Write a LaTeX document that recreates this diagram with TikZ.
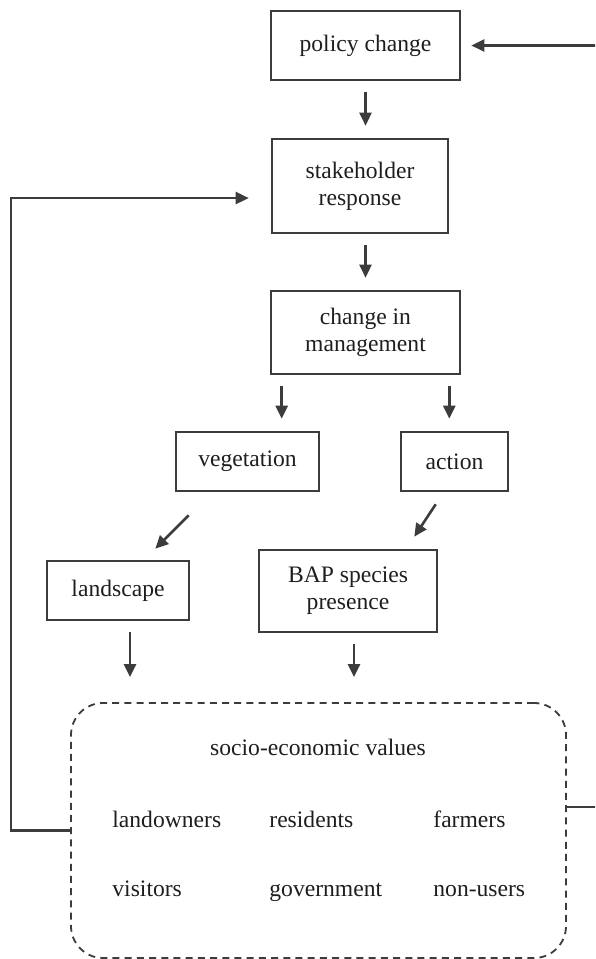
\documentclass[tikz,border=0pt]{standalone}
\usepackage{fontspec}
\setmainfont{Liberation Serif}
\usetikzlibrary{arrows.meta, positioning}
\definecolor{linegray}{RGB}{60,60,60}
\definecolor{textgray}{RGB}{30,30,30}

\begin{document}
\begin{tikzpicture}[x=0.5pt, y=-0.5pt,
    font=\fontsize{11.8}{13.6}\selectfont,
    box/.style={rectangle, draw=linegray, line width=1.3pt, text=textgray, align=center, inner sep=0pt},
    valuebox/.style={rectangle, rounded corners=16pt, draw=linegray, line width=0.9pt, dash pattern=on 3.5pt off 2.6pt, minimum width=247.5pt, minimum height=127.5pt},
    arr/.style={-{Triangle[length=6.5pt, width=6pt]}, draw=linegray, line width=1.3pt, shorten <=5.5pt, shorten >=6pt},
    group/.style={text=textgray, anchor=base west, inner sep=0pt}
]
\path[use as bounding box, clip] (0,0) rectangle (595,959);

% Boxes
\node[box, minimum width=94.5pt, minimum height=34.5pt] (policy) at (365.5,45.5) {policy change};
\node[box, minimum width=88pt, minimum height=47pt] (stake) at (360,186) {stakeholder\\response};
\node[box, minimum width=94.5pt, minimum height=41.5pt] (change) at (365.5,332.5) {change in\\management};
\node[box, minimum width=71.5pt, minimum height=29.5pt] (veg) at (247.5,461.5) {vegetation};
\node[box, minimum width=53.5pt, minimum height=29.5pt] (action) at (454.5,461.5) {action};
\node[box, minimum width=71pt, minimum height=29.5pt] (land) at (118,590.5) {landscape};
\node[box, minimum width=89pt, minimum height=41pt] (bap) at (348,591) {BAP species\\presence};

% Socio-economic values
\node[valuebox] (values) at (318.5,830.5) {};
\node[group, anchor=base] (title) at (318,755) {socio-economic values};
\node[group] (owners) at (112,827) {landowners};
\node[group] (residents) at (269,827) {residents};
\node[group] (farmers) at (433,827) {farmers};
\node[group] (visitors) at (112,896) {visitors};
\node[group] (government) at (269,896) {government};
\node[group] (nonusers) at (433,896) {non-users};

% Arrows down the chain
\draw[arr] (policy.south) -- (policy.south |- stake.north);
\draw[arr] (stake.south -| change.north) -- (change.north);
\draw[arr] ([xshift=6pt]change.south west) -- ([xshift=6pt]change.south west |- veg.north);
\draw[arr] ([xshift=-6pt]change.south east) -- ([xshift=-6pt]change.south east |- action.north);
\draw[arr, shorten <=0pt, shorten >=0pt] ([xshift=7pt, yshift=-11.5pt]veg.south west) -- ([xshift=-17.5pt, yshift=5.5pt]land.north east);
\draw[arr, shorten <=0pt, shorten >=0pt] ([xshift=18pt, yshift=-6pt]action.south west) -- ([xshift=-12pt, yshift=6pt]bap.north east);
\draw[arr, shorten >=12.5pt] ([xshift=6pt]land.south) -- ([xshift=6pt]land.south |- values.north);
\draw[arr, shorten >=12.5pt] ([xshift=3pt]bap.south) -- ([xshift=3pt]bap.south |- values.north);

% Feedback loops
\draw[arr, shorten <=0pt, shorten >=11pt] (values.west) -- ++(-29.5pt,0) |- ([yshift=-6pt]stake.west);
\draw[arr, shorten <=0pt, shorten >=5pt] ([yshift=11.75pt]values.east) -- ++(30pt,0) |- (policy.east);

\end{tikzpicture}
\end{document}
